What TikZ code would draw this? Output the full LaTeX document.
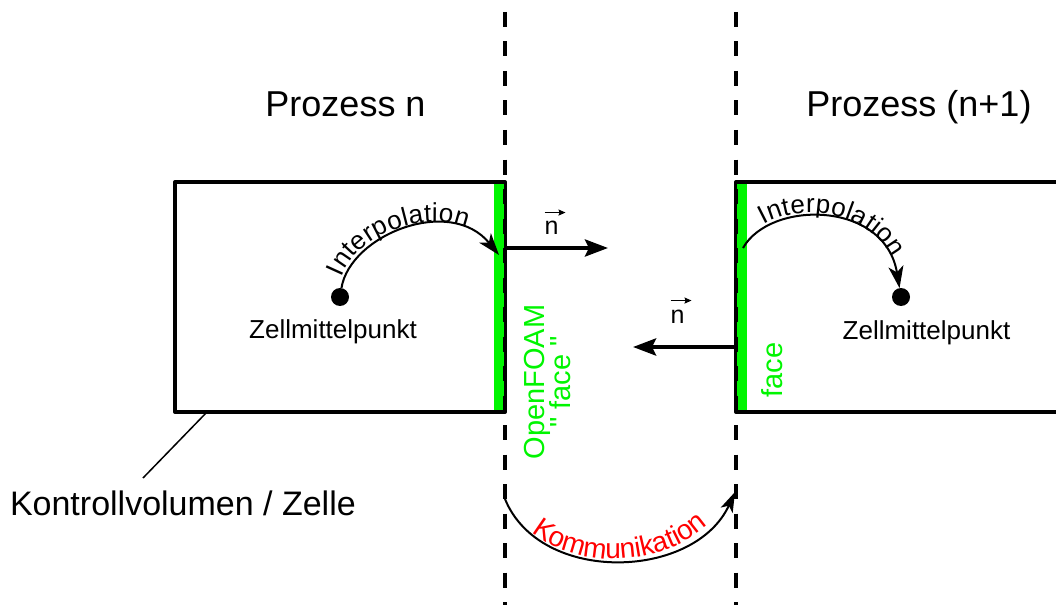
\documentclass[tikz,border=0pt]{standalone}
\usepackage{fontspec}
\setmainfont{Liberation Sans}
\usetikzlibrary{arrows.meta,decorations.text}
\definecolor{facegreen}{RGB}{0,245,0}
\newcommand\setfs[1]{\fontsize{#1bp}{#1bp}\selectfont}
\begin{document}
\begin{tikzpicture}[x=1bp,y=1bp,
  cellbox/.style={draw=black,line width=4bp,line join=round,minimum width=330bp,
    minimum height=230bp,inner sep=0pt,outer sep=0pt},
  facebar/.style={fill=facegreen,draw=none,minimum width=10bp,minimum height=226bp,
    inner sep=0pt,outer sep=0pt},
  cdot/.style={circle,fill=black,minimum size=18bp,inner sep=0pt,outer sep=0pt},
  partition/.style={line width=4bp,dash pattern=on 15bp off 14.5bp,dash phase=17.5bp},
  normalvec/.style={line width=4bp,-{Stealth[length=23bp,width=17bp,inset=4bp]}},
  overarrow/.style={line width=1.5bp,-{Stealth[length=7bp,width=6bp,inset=1bp]}},
  interarrow/.style={line width=2bp,-{Stealth[length=22bp,width=15bp,inset=6bp]}},
  commarrow/.style={line width=2bp,-{Stealth[length=20bp,width=13bp,inset=5bp]}},
  lbl/.style={inner sep=0pt,outer sep=0pt,text=black},
  greenlbl/.style={inner sep=0pt,outer sep=0pt,text=facegreen,rotate=90,align=center},
]
\useasboundingbox (0,0) rectangle (1056,-605);
\clip (0,0) rectangle (1056,-605);

% process titles
\node[lbl,anchor=base,font=\setfs{36}] (tleft) at (345.5,-117) {Prozess n};
\node[lbl,anchor=base,font=\setfs{36}] (tright) at (919,-117) {Prozess (n+1)};

% control volumes and their faces
\node[cellbox] (lbox) at (340,-297) {};
\node[cellbox] (rbox) at (901,-297) {};
\node[facebar] (lface) at (499,-297) {};
\node[facebar] (rface) at (742,-297) {};

% process boundaries
\coordinate (bl1) at (505,0);   \coordinate (bl2) at (505,-605);
\coordinate (br1) at (736,0);   \coordinate (br2) at (736,-605);
\draw[partition] (bl1) -- (bl2);
\draw[partition] (br1) -- (br2);

% cell centres
\node[cdot] (ldot) at (340,-297) {};
\node[cdot] (rdot) at (901,-297) {};
\node[lbl,anchor=base,font=\setfs{26}] (lcent) at (333,-338) {Zellmittelpunkt};
\node[lbl,anchor=base,font=\setfs{26}] (rcent) at (926.5,-339) {Zellmittelpunkt};

% interpolation from cell centre to face and back
\coordinate (ltip) at (499,-255);
\draw[interarrow,postaction={decorate,decoration={text along path,
    text={|\setfs{26}|Interpolation},text align={left indent=10bp},raise=3bp}}]
  (ldot) .. controls (350,-235) and (450,-195) .. (ltip);
\coordinate (rstart) at (743,-248);
\draw[interarrow,postaction={decorate,decoration={text along path,
    text={|\setfs{26}|Interpolation},text align=center,raise=3bp}}]
  (rstart) .. controls (770,-200) and (885,-200) .. (rdot);

% face normal vectors
\coordinate (ntipr) at (608,-248);
\coordinate (ntipl) at (633,-347);
\draw[normalvec] (lbox.east |- ntipr) -- (ntipr);
\draw[normalvec] (rbox.west |- ntipl) -- (ntipl);
\node[lbl,anchor=base,font=\setfs{25}] (n1) at (551.5,-235) {n};
\node[lbl,anchor=base,font=\setfs{25}] (n2) at (677.5,-323) {n};
\draw[overarrow] ([yshift=9bp]n1.north west) -- ([yshift=9bp,xshift=21bp]n1.north west);
\draw[overarrow] ([yshift=9bp]n2.north west) -- ([yshift=9bp,xshift=21bp]n2.north west);

% face labels
\node[greenlbl,font=\setfs{29},text depth=0pt] (oflbl) at (547,-382)
  {OpenFOAM\\[-3bp]\textquotedbl{} face \textquotedbl};
\node[greenlbl,font=\setfs{29}] (facelbl) at (772,-370) {face};

% communication between processes
\coordinate (kstart) at (505,-499);
\coordinate (kend) at (735,-492);
\draw[commarrow,postaction={decorate,decoration={text along path,
    text={|\setfs{28}\color{red}|Kommunikation},text align=center,raise=2bp}}]
  (kstart) .. controls (540,-585) and (695,-580) .. (kend);

% control volume annotation
\node[lbl,anchor=base west,font=\setfs{34}] (kvlbl) at (10,-515) {Kontrollvolumen / Zelle};
\coordinate (kvend) at (143,-478);
\draw[line width=1.5bp] (lbox.south -| 207,0) -- (kvend);
\end{tikzpicture}
\end{document}
